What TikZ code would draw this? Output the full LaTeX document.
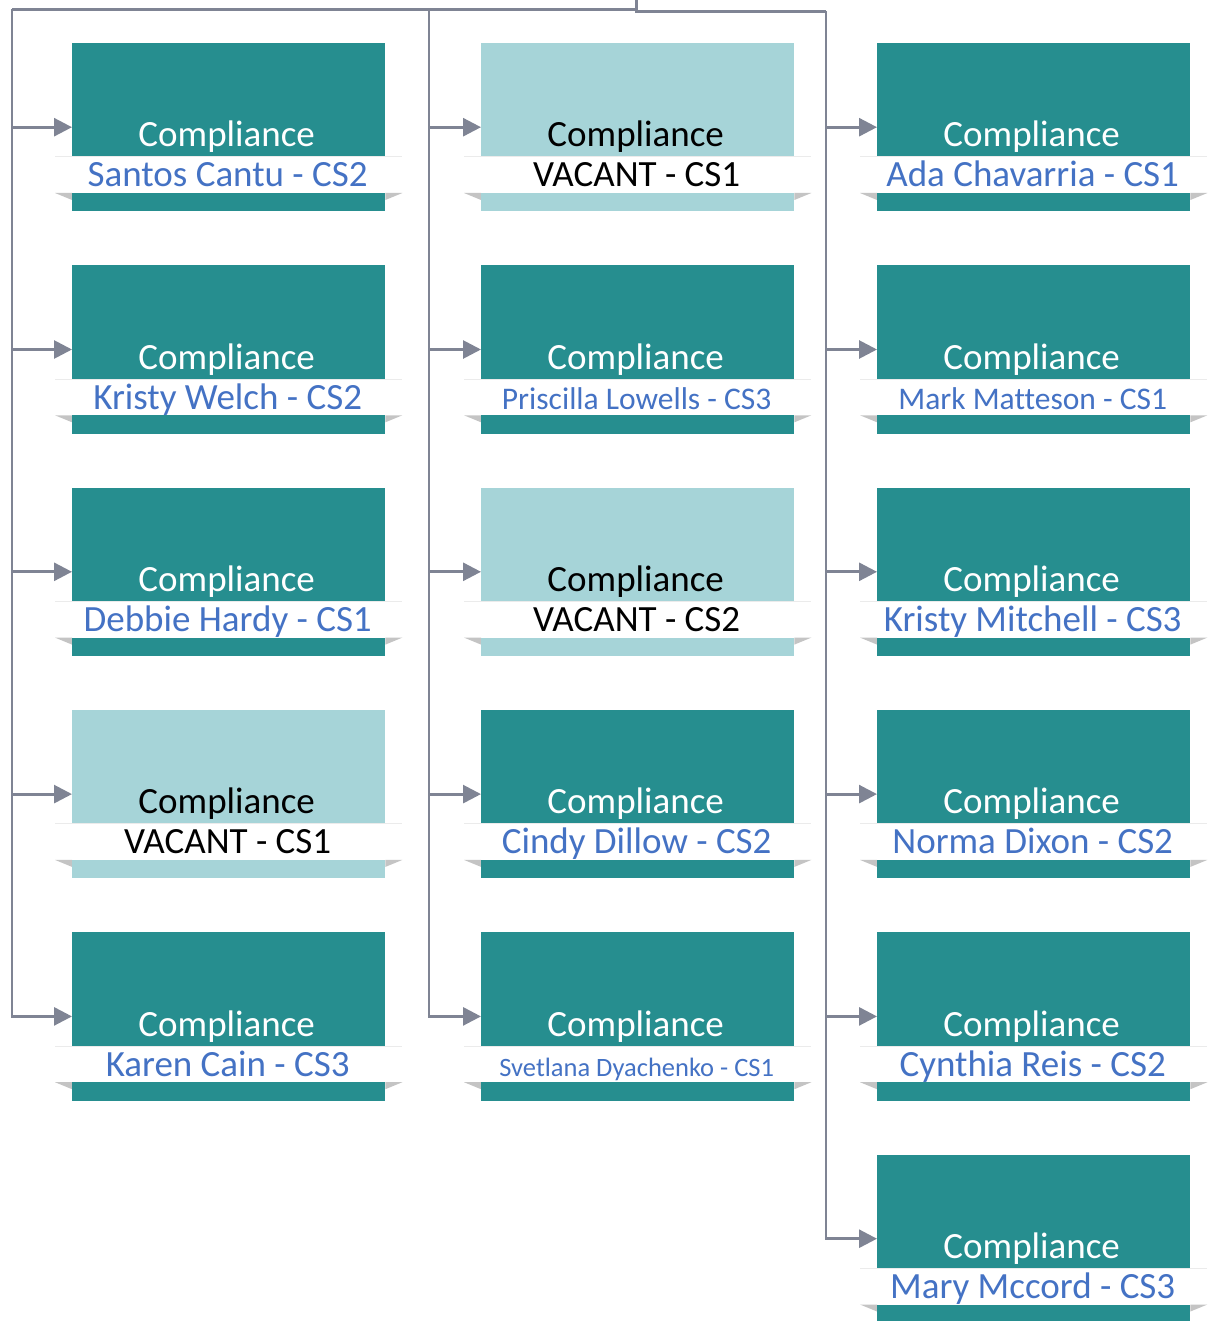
\documentclass[tikz,border=0pt]{standalone}
\usepackage{fontspec}
\setmainfont{Carlito}[Ligatures=NoCommon]
\usetikzlibrary{arrows.meta}
\definecolor{tealdark}{HTML}{268E8F}
\definecolor{teallight}{HTML}{A6D4D8}
\definecolor{nameblue}{HTML}{4472C4}
\definecolor{conngray}{HTML}{7F8494}
\definecolor{wedgegray}{HTML}{C4C4C4}
\definecolor{ribbonedge}{HTML}{EBEBEB}
\newcommand\bigfont{\fontsize{37}{44}\selectfont}
\newcommand\midfont{\fontsize{31.5}{38}\selectfont}
\newcommand\smallfont{\fontsize{26.5}{32}\selectfont}
\tikzset{
  conn/.style={draw=conngray, line width=2.8pt, -{Triangle[length=18pt,width=18pt]}},
  busline/.style={draw=conngray, line width=2.8pt},
  unitbox/.style={draw=none, minimum width=313pt, minimum height=168pt, inner sep=0pt, anchor=north west},
  ribbon/.style={fill=white, draw=none},
  ribbontop/.style={draw=ribbonedge, line width=1pt},
  wedge/.style={fill=wedgegray, draw=none},
  label/.style={anchor=base, inner sep=0pt, font=\bigfont}
}
% #1 id, #2 left x, #3 top y, #4 fill colour, #5 text colour, #6 name text
\newcommand\orgunit[6]{%
  \node[unitbox, fill=#4] (#1) at (#2,-#3) {};
  \path[ribbon] ([xshift=-17pt,yshift=-114pt]#1.north west) rectangle ([xshift=17pt,yshift=-150pt]#1.north east);
  \draw[ribbontop] ([xshift=-17pt,yshift=-114pt]#1.north west) -- ([xshift=17pt,yshift=-114pt]#1.north east);
  \fill[wedge] ([xshift=-17pt,yshift=-150pt]#1.north west) -- ([yshift=-150pt]#1.north west) -- ([yshift=-157pt]#1.north west) -- cycle;
  \fill[wedge] ([xshift=17pt,yshift=-150pt]#1.north east) -- ([yshift=-150pt]#1.north east) -- ([yshift=-157pt]#1.north east) -- cycle;
  \fill[#4] ([yshift=-150pt]#1.north west) rectangle (#1.south east);
  \node[label, text=#5] (#1-title) at ([xshift=-2pt,yshift=-104pt]#1.north) {Compliance};
  \node[label, text=#5] (#1-name) at ([xshift=-1pt,yshift=-144pt]#1.north) {#6};
}
\begin{document}
\begin{tikzpicture}[x=1pt,y=1pt]
\useasboundingbox (0,0) rectangle (1208,-1321);
% column 1
\orgunit{a1}{72}{43}{tealdark}{white}{\textcolor{nameblue}{Santos Cantu - CS2}}
\orgunit{a2}{72}{265.3}{tealdark}{white}{\textcolor{nameblue}{Kristy Welch - CS2}}
\orgunit{a3}{72}{487.6}{tealdark}{white}{\textcolor{nameblue}{Debbie Hardy - CS1}}
\orgunit{a4}{72}{709.9}{teallight}{black}{VACANT - CS1}
\orgunit{a5}{72}{932.2}{tealdark}{white}{\textcolor{nameblue}{Karen Cain - CS3}}
% column 2
\orgunit{b1}{481}{43}{teallight}{black}{VACANT - CS1}
\orgunit{b2}{481}{265.3}{tealdark}{white}{\textcolor{nameblue}{\midfont Priscilla Lowells - CS3}}
\orgunit{b3}{481}{487.6}{teallight}{black}{VACANT - CS2}
\orgunit{b4}{481}{709.9}{tealdark}{white}{\textcolor{nameblue}{Cindy Dillow - CS2}}
\orgunit{b5}{481}{932.2}{tealdark}{white}{\textcolor{nameblue}{\smallfont Svetlana Dyachenko - CS1}}
% column 3
\orgunit{c1}{877}{43}{tealdark}{white}{\textcolor{nameblue}{Ada Chavarria - CS1}}
\orgunit{c2}{877}{265.3}{tealdark}{white}{\textcolor{nameblue}{\midfont Mark Matteson - CS1}}
\orgunit{c3}{877}{487.6}{tealdark}{white}{\textcolor{nameblue}{Kristy Mitchell - CS3}}
\orgunit{c4}{877}{709.9}{tealdark}{white}{\textcolor{nameblue}{Norma Dixon - CS2}}
\orgunit{c5}{877}{932.2}{tealdark}{white}{\textcolor{nameblue}{Cynthia Reis - CS2}}
\orgunit{c6}{877}{1154.5}{tealdark}{white}{\textcolor{nameblue}{Mary Mccord - CS3}}
% connector buses
\coordinate (root) at (636.5,0);
\coordinate (busL) at (12,-9.5);
\coordinate (busM) at (429,-9.5);
\coordinate (busR) at (826,-11.5);
\draw[busline] (root) |- (busL);
\draw[busline] (root) |- (busR);
\foreach \n in {a1,a2,a3,a4,a5} { \draw[conn] (busL) |- (\n.west); }
\foreach \n in {b1,b2,b3,b4,b5} { \draw[conn] (busM) |- (\n.west); }
\foreach \n in {c1,c2,c3,c4,c5,c6} { \draw[conn] (busR) |- (\n.west); }
\end{tikzpicture}
\end{document}
